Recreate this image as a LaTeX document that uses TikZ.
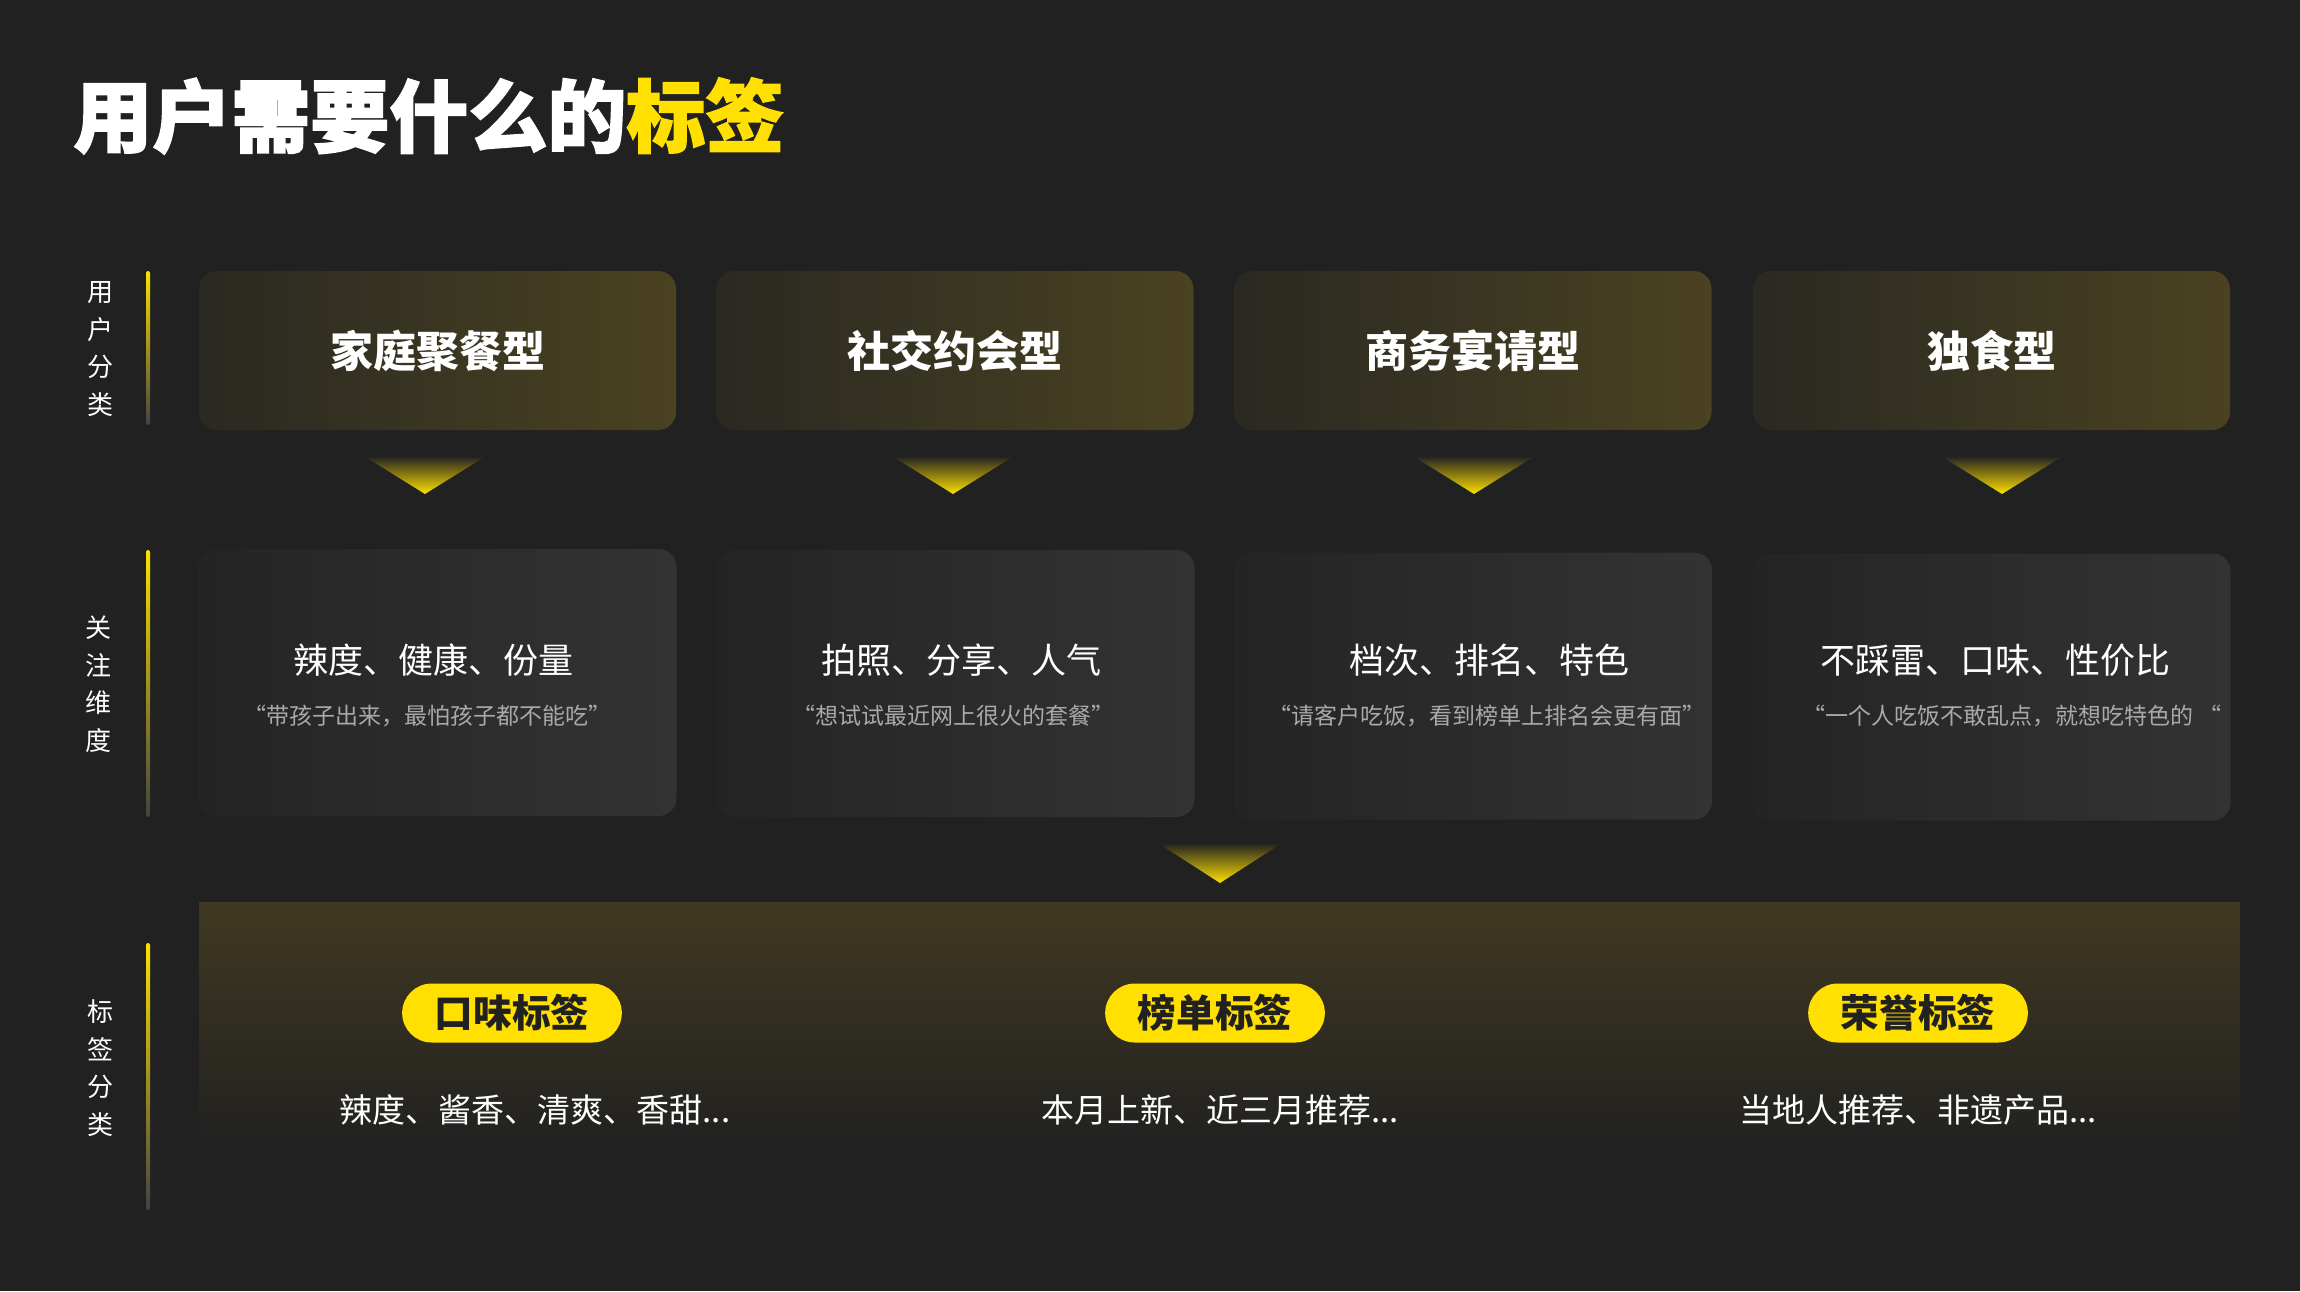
\documentclass[tikz,border=0pt]{standalone}
\usepackage{fontspec}
\usepackage{xcolor}
\usetikzlibrary{positioning, shapes.misc}
\setmainfont{Noto Sans CJK SC}
\newfontfamily\heavyfont{Noto Sans CJK SC}[FakeBold=2]

\definecolor{bg}{HTML}{212121}
\definecolor{hiyellow}{HTML}{FFE000}
\definecolor{oliveL}{HTML}{2A2922}
\definecolor{oliveR}{HTML}{4A4221}
\definecolor{cardL}{HTML}{242424}
\definecolor{cardR}{HTML}{333333}
\definecolor{panelTop}{HTML}{403820}
\definecolor{quotegray}{HTML}{A9A9A9}

\tikzset{
  sidelab/.style={text=white, align=center, inner sep=0, font=\fontsize{13}{18.8}\selectfont},
  typebox/.style={rounded corners=9pt, left color=oliveL, right color=oliveR, minimum width=238.5pt, minimum height=79.5pt, text=white, font=\bfseries\fontsize{21.5}{24}\selectfont},
  focuscard/.style={rounded corners=9pt, left color=cardL, right color=cardR, minimum width=239pt, minimum height=133.5pt},
  focustext/.style={text=white, inner sep=0, font=\fontsize{17.5}{20}\selectfont},
  quotetext/.style={text=quotegray, inner sep=0, font=\fontsize{11.5}{14}\selectfont},
  tagpill/.style={rounded rectangle, fill=hiyellow, minimum width=116.5pt, minimum height=29.5pt, text=bg, font=\bfseries\fontsize{19.3}{22}\selectfont},
  tagtext/.style={text=white, inner sep=0, font=\fontsize{16.5}{20}\selectfont}
}

\begin{document}
\begin{tikzpicture}[x=0.5pt, y=-0.5pt]
  \fill[bg] (0,0) rectangle (2300,1291);
  \useasboundingbox (0,0) rectangle (2300,1291);

  % title
  \node[anchor=west, inner sep=0, text=white, font=\heavyfont\bfseries\fontsize{39.5}{40}\selectfont] (title) at (73,116) {用户需要什么的\textcolor{hiyellow}{标签}};

  % side labels
  \node[sidelab] (usertype) at (100,349) {用\\户\\分\\类};
  \node[sidelab] (focus) at (98,684) {关\\注\\维\\度};
  \node[sidelab] (tagtype) at (100,1068) {标\\签\\分\\类};
  \shade[rounded corners=1pt, top color=hiyellow, bottom color=bg!85!white] (146,271) rectangle (150,425);
  \shade[rounded corners=1pt, top color=hiyellow, bottom color=bg!85!white] (146,550) rectangle (150,817);
  \shade[rounded corners=1pt, top color=hiyellow, bottom color=bg!85!white] (146,943) rectangle (150,1210);

  % user types
  \node[typebox] (family) at (437.5,350.5) {家庭聚餐型};
  \node[typebox] (social) at (955,350.5) {社交约会型};
  \node[typebox] (business) at (1473,350.5) {商务宴请型};
  \node[typebox] (single) at (1991.5,350.5) {独食型};

  \shade[top color=bg, bottom color=hiyellow] (364,456) -- (486,456) -- (425,494) -- cycle;
  \shade[top color=bg, bottom color=hiyellow] (892,456) -- (1014,456) -- (953,494) -- cycle;
  \shade[top color=bg, bottom color=hiyellow] (1413,456) -- (1535,456) -- (1474,494) -- cycle;
  \shade[top color=bg, bottom color=hiyellow] (1941,456) -- (2063,456) -- (2002,494) -- cycle;

  % focus cards
  \node[focuscard] (card1) at (437.5,682.5) {};
  \node[focuscard] (card2) at (955.5,683.5) {};
  \node[focuscard] (card3) at (1473,686) {};
  \node[focuscard] (card4) at (1991.5,687) {};

  \node[focustext] (focus1) at (433,660) {辣度、健康、份量};
  \node[quotetext] (quote1) at (427,716) {“带孩子出来，最怕孩子都不能吃”};
  \node[focustext] (focus2) at (961,660) {拍照、分享、人气};
  \node[quotetext] (quote2) at (953,716) {“想试试最近网上很火的套餐”};
  \node[focustext] (focus3) at (1489,660) {档次、排名、特色};
  \node[quotetext] (quote3) at (1487,716) {“请客户吃饭，看到榜单上排名会更有面”};
  \node[focustext] (focus4) at (1995,660) {不踩雷、口味、性价比};
  \node[quotetext] (quote4) at (2012,716) {“一个人吃饭不敢乱点，就想吃特色的 “};

  \shade[top color=bg, bottom color=hiyellow] (1158,843) -- (1282,843) -- (1220,883) -- cycle;

  % tag panel
  \shade[top color=panelTop, bottom color=bg] (199,902) rectangle (2240,1150);
  \node[tagpill] (taste) at (512,1013) {口味标签};
  \node[tagpill] (ranking) at (1215,1013) {榜单标签};
  \node[tagpill] (honor) at (1918,1013) {荣誉标签};
  \node[tagtext] (tastetxt) at (535,1110) {辣度、酱香、清爽、香甜...};
  \node[tagtext] (rankingtxt) at (1220,1110) {本月上新、近三月推荐...};
  \node[tagtext] (honortxt) at (1918,1110) {当地人推荐、非遗产品...};
\end{tikzpicture}
\end{document}
